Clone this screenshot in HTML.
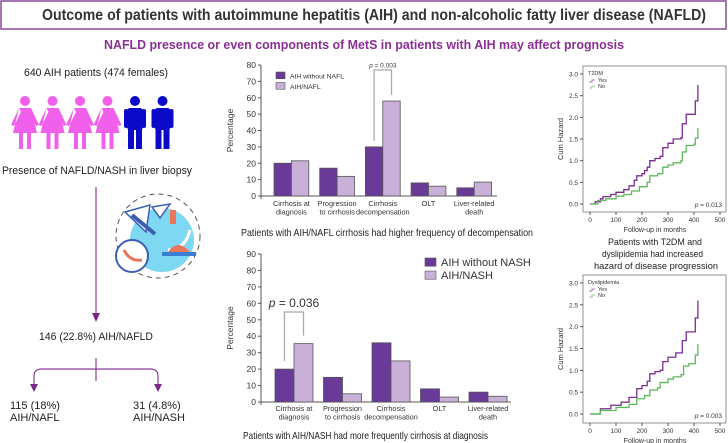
<!DOCTYPE html>
<html><head><meta charset="utf-8"><style>
body{margin:0;background:#fff;width:728px;height:443px;overflow:hidden;font-family:"Liberation Sans",Arial,sans-serif}
svg{display:block}
</style></head><body>
<svg id="s" width="728" height="443" viewBox="0 0 728 443" xmlns="http://www.w3.org/2000/svg" font-family="Liberation Sans, Arial, sans-serif">
<rect x="1" y="1" width="725" height="28" fill="#fff" stroke="#8a4a9a" stroke-width="1.5"/>
<text x="42" y="20" textLength="664" lengthAdjust="spacingAndGlyphs" font-size="15.5" font-weight="bold" fill="#333">Outcome of patients with autoimmune hepatitis (AIH) and non-alcoholic fatty liver disease (NAFLD)</text>
<text x="104" y="49" textLength="520" lengthAdjust="spacingAndGlyphs" font-size="12.5" font-weight="bold" fill="#8b2f96">NAFLD presence or even components of MetS in patients with AIH may affect prognosis</text>

<g font-size="11" fill="#222">
<text x="24" y="76" textLength="144" lengthAdjust="spacingAndGlyphs">640 AIH patients (474 females)</text>
<g id="people"></g>
<text x="2" y="174" textLength="190" lengthAdjust="spacingAndGlyphs">Presence of NAFLD/NASH in liver biopsy</text>
<line x1="96" y1="187" x2="96" y2="315" stroke="#8b3f96" stroke-width="1.2"/>
<path d="M92 313 L96 322 L100 313 Z" fill="#7a2a86"/>
<g>
<circle cx="158" cy="236" r="42" fill="none" stroke="#555" stroke-dasharray="5 4" stroke-width="1"/>
<circle cx="162" cy="240" r="32" fill="#7fd8f2"/>
<path d="M125 212 L150 205 L146 232 Z" fill="#fff" stroke="#3a5fb0" stroke-width="1.5"/>
<path d="M152 207 L170 204 L160 218 Z" fill="#fff" stroke="#3a5fb0" stroke-width="1.5"/>
<line x1="132" y1="215" x2="155" y2="234" stroke="#3a5fb0" stroke-width="4"/>
<rect x="170" y="210" width="6" height="14" fill="#e8765a"/>
<path d="M168 250 Q185 250 190 230" stroke="#fff" stroke-width="3" fill="none"/>
<rect x="162" y="252" width="34" height="4" fill="#3a7fd0"/>
<path d="M168 252 Q178 238 190 252 Z" fill="#e8765a"/>
<circle cx="132" cy="256" r="16" fill="#fff" stroke="#3a5fb0" stroke-width="2"/>
<path d="M124 250 Q130 262 142 260" stroke="#e8765a" stroke-width="3" fill="none"/>
</g>
<text x="39" y="340" textLength="114" lengthAdjust="spacingAndGlyphs">146 (22.8%) AIH/NAFLD</text>
<line x1="96" y1="358" x2="96" y2="381" stroke="#8b3f96" stroke-width="1.2"/>
<path d="M34 386 L34 376 Q34 369 42 369 L150 369 Q158 369 158 376 L158 386" fill="none" stroke="#8b3f96" stroke-width="1.2"/>
<path d="M30 384 L34 392 L38 384 Z M154 384 L158 392 L162 384 Z" fill="#7a2a86"/>
<text x="10" y="409">115 (18%)</text>
<text x="10" y="421">AIH/NAFL</text>
<text x="133" y="409">31 (4.8%)</text>
<text x="133" y="421">AIH/NASH</text>
</g>
<g id="charts"></g>
</svg>
<script>
// ---- bar chart data ----
const barCats1 = [["Cirrhosis at","diagnosis"],["Progression","to cirrhosis"],["Cirrhosis","decompensation"],["OLT",""],["Liver-related","death"]];
const nafl_without = [20, 17, 30, 8, 5];
const nafl_with = [21.5, 12, 58, 6, 8.5];
const ticks1 = [0,10,20,30,40,50,60,70,80];
const barCats2 = [["Cirrhosis at","diagnosis"],["Progression","to cirrhosis"],["Cirrhosis","decompensation"],["OLT",""],["Liver-related","death"]];
const nash_without = [20, 15, 36, 8, 6];
const nash_with = [35.5, 5, 25, 3, 3.5];
const ticks2 = [0,10,20,30,40,50,60,70,80,90];
// ---- cumulative hazard data ----
const t2dmYesT = [0,20,40,50,80,100,130,150,170,180,200,210,220,230,250,270,280,300,320,350,355,370,405,415];
const t2dmYesV = [0,0.05,0.12,0.17,0.22,0.27,0.33,0.42,0.55,0.65,0.7,0.77,0.85,1.0,1.05,1.1,1.3,1.4,1.5,1.53,1.85,2.07,2.38,2.75];
const t2dmNoT = [0,30,60,100,130,160,190,220,230,260,280,300,320,350,355,370,400,405,415];
const t2dmNoV = [0,0.08,0.12,0.18,0.22,0.3,0.4,0.5,0.65,0.7,0.85,0.9,0.95,1.0,1.2,1.35,1.38,1.52,1.75];
const dysYesT = [0,40,80,120,150,180,200,220,230,250,270,280,300,330,355,370,405,415];
const dysYesV = [0,0.12,0.2,0.27,0.38,0.58,0.65,0.75,0.92,0.97,1.0,1.2,1.3,1.4,1.68,1.88,2.2,2.6];
const dysNoT = [0,40,100,150,180,210,230,260,270,300,320,350,360,380,405,415];
const dysNoV = [0,0.08,0.15,0.22,0.35,0.42,0.55,0.6,0.72,0.8,0.85,0.9,1.1,1.15,1.35,1.6];
const hazTicks = [0,0.5,1,1.5,2,2.5,3];
const monthTicks = [0,100,200,300,400,500];

const NS="http://www.w3.org/2000/svg";
const root=document.getElementById('charts');
function mk(tag,attrs,parent,txt){const e=document.createElementNS(NS,tag);for(const k in attrs)e.setAttribute(k,attrs[k]);if(txt!==undefined)e.textContent=txt;(parent||root).appendChild(e);return e;}

const ppl=document.getElementById('people');
for(let i=0;i<6;i++){
  const g=mk('g',{},ppl);
  
  
  const cx=25+i*27.5, col=i<4?'#f060ea':'#0a0ac8';
  mk('circle',{cx:cx,cy:101,r:5,fill:col},g);
  if(i<4){
    mk('path',{d:`M${cx-6} 108 L${cx+6} 108 L${cx+12} 133 L${cx-12} 133 Z M${cx-6} 108 L${cx-14} 125 L${cx-11} 126 L${cx-4} 112 Z M${cx+6} 108 L${cx+14} 125 L${cx+11} 126 L${cx+4} 112 Z`,fill:col},g);
    mk('rect',{x:cx-6,y:132,width:4,height:17,fill:col},g);
    mk('rect',{x:cx+2,y:132,width:4,height:17,fill:col},g);
  } else {
    mk('rect',{x:cx-8,y:108,width:16,height:22,rx:3,fill:col},g);
    mk('rect',{x:cx-11,y:109,width:4,height:19,rx:2,fill:col},g);
    mk('rect',{x:cx+7,y:109,width:4,height:19,rx:2,fill:col},g);
    mk('rect',{x:cx-7,y:128,width:6,height:21,fill:col},g);
    mk('rect',{x:cx+1,y:128,width:6,height:21,fill:col},g);
  }
}

function barChart(o){
  const g=mk('g',{});
  
  
  const y=v=>o.y0-(v/o.max)*(o.y0-o.yTop);
  mk('line',{x1:o.ax,y1:o.yTop,x2:o.ax,y2:o.y0+3,stroke:'#555','stroke-width':1},g);
  mk('line',{x1:o.ax,y1:o.y0,x2:o.ax+o.axW,y2:o.y0,stroke:'#555','stroke-width':1},g);
  o.ticks.forEach(t=>{
    mk('line',{x1:o.ax-3,y1:y(t),x2:o.ax,y2:y(t),stroke:'#555'},g);
    const tl=mk('text',{x:o.ax-5,y:y(t)+3,'text-anchor':'end','font-size':o.tf,fill:'#333'},g,String(t));
    
    
  });
  const yl=mk('text',{x:0,y:0,transform:`translate(${o.ax-28},${(o.y0+o.yTop)/2}) rotate(-90)`,'text-anchor':'middle','font-size':8.5,fill:'#333'},g,'Percentage');
  
  
  o.cats.forEach((c,i)=>{
    const gx=o.gx0+i*o.gs;
    [[o.a,'#6a3a98'],[o.b,'#c8b0d8']].forEach((s,j)=>{
      const v=s[0][i];
      const r=mk('rect',{x:gx+j*o.bw,y:y(v),width:o.bw,height:o.y0-y(v),fill:s[1],stroke:'#555','stroke-width':0.8},g);
      
      
    });
    c.forEach((l,k)=>{
      const t=mk('text',{x:gx+o.bw,y:o.y0+o.lo+k*8.5,'text-anchor':'middle','font-size':7.3,fill:'#333'},g,l);
      
      
    });
  });
  const pi=o.pi, bx=o.gx0+pi*o.gs;
  const ya=y(o.a[pi])-o.pgap, yb=y(o.b[pi])-o.pgap, top=o.ptop;
  mk('path',{d:`M${bx+o.bw/2} ${ya} L${bx+o.bw/2} ${top} L${bx+1.5*o.bw} ${top} L${bx+1.5*o.bw} ${yb}`,fill:'none',stroke:'#aaa','stroke-width':1.3},g);
  const pt=mk('text',{x:bx+o.bw,y:top-o.pf*0.4,'text-anchor':'middle','font-size':o.pf,fill:'#333'},g);
  
  
  mk('tspan',{'font-style':'italic'},pt,'p');
  mk('tspan',{},pt,' = '+o.p);
  o.leg.forEach((l,i)=>{
    const lg=mk('g',{},g);
    
    
    mk('rect',{x:o.lx,y:o.ly+i*o.lsp,width:o.ls,height:o.ls*0.75,fill:i?'#c8b0d8':'#6a3a98',stroke:'#555','stroke-width':0.6},lg);
    mk('text',{x:o.lx+o.ls+5,y:o.ly+i*o.lsp+o.ls*0.72,'font-size':o.lf,fill:'#333'},lg,l);
  });
  const cap=mk('text',{x:o.capx,y:o.capy,textLength:o.capw,lengthAdjust:'spacingAndGlyphs','font-size':10.5,fill:'#222'},g,o.cap);
  
  
}
barChart({name:'nafl-bar-chart',ax:261,axW:236,y0:196,yTop:65,max:80,ticks:ticks1,tf:8.5,cats:barCats1,a:nafl_without,b:nafl_with,gx0:274,gs:45.7,bw:17.4,lo:10,pi:2,pgap:6,ptop:70,pf:6.5,p:'0.003',leg:['AIH without NAFL','AIH/NAFL'],lx:276,ly:72,lsp:10.5,ls:9,lf:6.8,capx:241,capw:292,capy:236,cap:'Patients with AIH/NAFL cirrhosis had higher frequency of decompensation'});
barChart({name:'nash-bar-chart',ax:261,axW:250,y0:402,yTop:254,max:90,ticks:ticks2,tf:8.5,cats:barCats2,a:nash_without,b:nash_with,gx0:275,gs:48.5,bw:19,lo:9,pi:0,pgap:8,ptop:312,pf:12,p:'0.036',leg:['AIH without NASH','AIH/NASH'],lx:425,ly:258,lsp:13,ls:11,lf:11,capx:243,capw:245,capy:439,cap:'Patients with AIH/NASH had more frequently cirrhosis at diagnosis'});

function kmChart(o){
  const g=mk('g',{});
  
  
  const x=v=>590+v/500*130, y=v=>o.y0-v/3*(o.y0-o.y3);
  mk('rect',{x:583,y:o.top,width:143,height:o.bot-o.top,fill:'#fff',stroke:'#777','stroke-width':0.8},g);
  hazTicks.forEach(t=>{
    mk('line',{x1:580,y1:y(t),x2:583,y2:y(t),stroke:'#555'},g);
    const l=mk('text',{x:578,y:y(t)+2.5,'text-anchor':'end','font-size':6.5,fill:'#333'},g,t.toFixed(1));
    
    
  });
  monthTicks.forEach(t=>{
    mk('line',{x1:x(t),y1:o.bot,x2:x(t),y2:o.bot+3,stroke:'#555'},g);
    const l=mk('text',{x:x(t),y:o.bot+10,'text-anchor':'middle','font-size':6.5,fill:'#333'},g,String(t));
    
    
  });
  const xt=mk('text',{x:655,y:o.bot+20,'text-anchor':'middle','font-size':7,fill:'#333'},g,'Follow-up in months');
  
  
  const yt=mk('text',{x:0,y:0,transform:`translate(563,${(o.top+o.bot)/2}) rotate(-90)`,'text-anchor':'middle','font-size':7.5,fill:'#333'},g,'Cum Hazard');
  
  
  [[o.yT,o.yV,'#7b2d90'],[o.nT,o.nV,'#5cb85c']].forEach(s=>{
    let d=`M${x(s[0][0])} ${y(s[1][0])}`;
    for(let i=1;i<s[0].length;i++){d+=` L${x(s[0][i])} ${y(s[1][i-1])} L${x(s[0][i])} ${y(s[1][i])}`;}
    const p=mk('path',{d:d,fill:'none',stroke:s[2],'stroke-width':1.3},g);
    
    
  });
  mk('text',{x:588,y:o.top+9,'font-size':5.5,fill:'#333'},g,o.leg);
  mk('path',{d:`M589 ${o.top+16} h3 v-2 h3`,stroke:'#9b4dac',fill:'none','stroke-width':0.8},g);
  mk('text',{x:598,y:o.top+16,'font-size':5.5,fill:'#333'},g,'Yes');
  mk('path',{d:`M589 ${o.top+22} h3 v-2 h3`,stroke:'#6cc56c',fill:'none','stroke-width':0.8},g);
  mk('text',{x:598,y:o.top+22,'font-size':5.5,fill:'#333'},g,'No');
  const pt=mk('text',{x:722,y:o.bot-5,'text-anchor':'end','font-size':6.5,fill:'#333'},g);
  
  
  mk('tspan',{'font-style':'italic'},pt,'p');
  mk('tspan',{},pt,' = '+o.p);
}
kmChart({name:'t2dm-hazard-chart',top:66,bot:212,y0:204,y3:74,yT:t2dmYesT,yV:t2dmYesV,nT:t2dmNoT,nV:t2dmNoV,leg:'T2DM',p:'0.013'});
kmChart({name:'dyslipidemia-hazard-chart',top:275,bot:423,y0:414,y3:283,yT:dysYesT,yV:dysYesV,nT:dysNoT,nV:dysNoV,leg:'Dyslipidemia',p:'0.003'});
[['Patients with T2DM and',608,94],['dyslipidemia had increased',602,101],['hazard of disease progression',594,124]].forEach((l,i)=>{
  const t=mk('text',{x:l[1],y:245+i*12,textLength:l[2],lengthAdjust:'spacingAndGlyphs','font-size':9.5,fill:'#222'},root,l[0]);
  
  
});
</script>
</body></html>
